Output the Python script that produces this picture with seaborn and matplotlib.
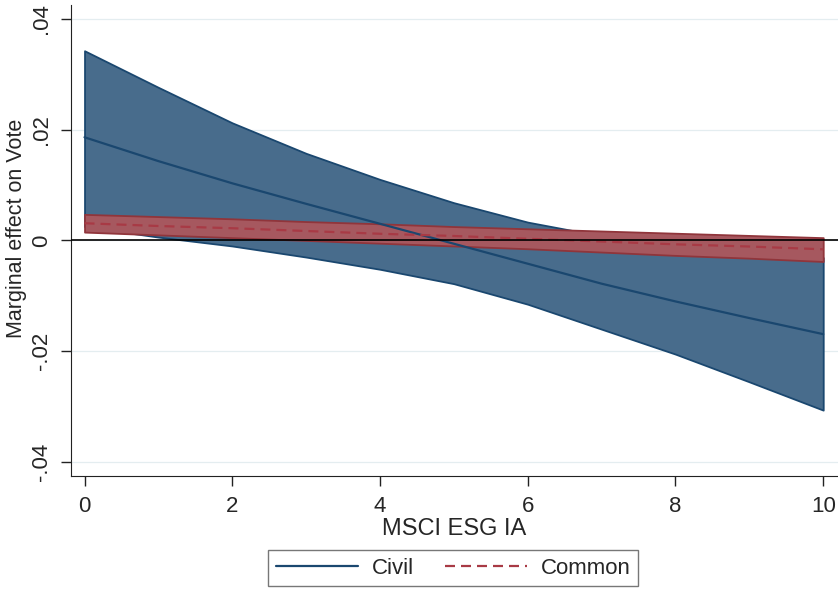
import numpy as np
import pandas as pd
import seaborn as sns
import matplotlib.pyplot as plt

# values (x = MSCI ESG IA score)
esg = [0, 1, 2, 3, 4, 5, 6, 7, 8, 9, 10]

civil_me = [0.0186, 0.0143, 0.0103, 0.0066, 0.0030, -0.0006, -0.0042, -0.0078, -0.0110, -0.0140, -0.0169]
civil_hi = [0.0342, 0.0276, 0.0212, 0.0157, 0.0110, 0.0068, 0.0033, 0.0008, -0.0010, -0.0021, -0.0031]
civil_lo = [0.0025, 0.0006, -0.0010, -0.0030, -0.0052, -0.0078, -0.0115, -0.0160, -0.0205, -0.0255, -0.0306]

common_me = [0.0031, 0.0026, 0.0022, 0.0017, 0.0012, 0.0008, 0.0003, -0.0002, -0.0007, -0.0011, -0.0016]
common_hi = [0.0047, 0.0043, 0.0039, 0.0034, 0.0030, 0.0025, 0.0021, 0.0017, 0.0013, 0.0009, 0.0005]
common_lo = [0.0015, 0.0010, 0.0005, 0.0000, -0.0005, -0.0010, -0.0015, -0.0021, -0.0027, -0.0032, -0.0038]

x_ticks = [0, 2, 4, 6, 8, 10]
y_ticks = [-0.04, -0.02, 0, 0.02, 0.04]
y_tick_labels = ['-.04', '-.02', '0', '.02', '.04']

NAVY = '#1a476f'
NAVY_FILL = '#486c8c'
MAROON = '#90353b'
MAROON_FILL = '#a6585f'
MAROON_LINE = '#a83a45'
GRID = '#e4edf0'
DASH = (0, (4.5, 2.7))


def build_df():
    civil = pd.DataFrame(dict(esg=esg, me=civil_me, lo=civil_lo, hi=civil_hi))
    civil['system'] = 'Civil'
    common = pd.DataFrame(dict(esg=esg, me=common_me, lo=common_lo, hi=common_hi))
    common['system'] = 'Common'
    return pd.concat([civil, common], ignore_index=True)


def plot_margins(df):
    sns.set_style('white')
    plt.rcParams['font.family'] = ['Liberation Sans', 'DejaVu Sans']

    fig = plt.figure(figsize=(8.38, 5.9), dpi=100)
    ax = fig.add_axes([0.085, 0.193, 0.915, 0.799])

    # confidence bands first, lines on top (like stata's rarea + line)
    c = df[df['system'] == 'Civil']
    m = df[df['system'] == 'Common']
    ax.fill_between(c['esg'], c['lo'], c['hi'], facecolor=NAVY_FILL, edgecolor=NAVY, linewidth=1.3, zorder=2)
    ax.fill_between(m['esg'], m['lo'], m['hi'], facecolor=MAROON_FILL, edgecolor=MAROON, linewidth=1.3, zorder=3)

    sns.lineplot(data=c, x='esg', y='me', color=NAVY, linewidth=1.6, legend=False, ax=ax, zorder=4)
    sns.lineplot(data=m, x='esg', y='me', color=MAROON_LINE, linewidth=1.6, linestyle=DASH,
                 legend=False, ax=ax, zorder=4)

    ax.axhline(0, color='black', linewidth=1.2, zorder=5)
    for yv in y_ticks:
        ax.axhline(yv, color=GRID, linewidth=0.9, zorder=1)

    ax.set_xlim(-0.18, 10.2)
    ax.set_ylim(-0.0425, 0.0425)
    ax.set_xticks(x_ticks)
    ax.set_xticklabels([str(t) for t in x_ticks])
    ax.set_yticks(y_ticks)
    ax.set_yticklabels(y_tick_labels, rotation=90, va='center')
    ax.tick_params(axis='both', direction='out', length=7, width=1, color='#222222',
                   labelsize=16, pad=7, left=True, bottom=True)

    ax.set_xlabel('MSCI ESG IA', fontsize=17, labelpad=1)
    ax.set_ylabel('Marginal effect on Vote', fontsize=15.5)
    ax.yaxis.set_label_coords(-0.058, 0.525)

    sns.despine(ax=ax, top=True, right=True)
    ax.spines['left'].set_color('#222222')
    ax.spines['bottom'].set_color('#222222')

    handles = [plt.Line2D([], [], color=NAVY, linewidth=1.6),
               plt.Line2D([], [], color=MAROON_LINE, linewidth=1.6, linestyle=DASH)]
    leg = fig.legend(handles, ['Civil', 'Common'], loc='center', bbox_to_anchor=(0.541, 0.037),
                     ncol=2, fontsize=16, frameon=True, fancybox=False, handlelength=3.7,
                     handletextpad=0.6, columnspacing=1.4, borderpad=0.35, borderaxespad=0)
    leg.get_frame().set_edgecolor('#555555')
    leg.get_frame().set_linewidth(1.0)

    plt.savefig('out.png', dpi=100)
    plt.close('all')


if __name__ == "__main__":
    df = build_df()
    plot_margins(df)
